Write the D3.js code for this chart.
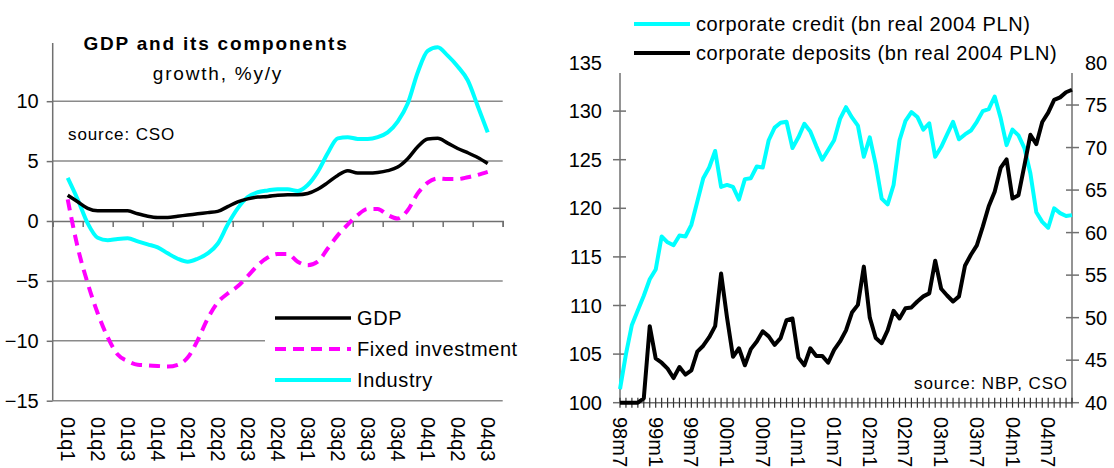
<!DOCTYPE html>
<html>
<head>
<meta charset="utf-8">
<script src="https://cdn.jsdelivr.net/npm/d3@7"></script>
<style>
  body { margin: 0; background: #fff; }
  svg { font-family: "Liberation Sans", Arial, sans-serif; }
</style>
</head>
<body>
<svg id="chart" width="1114" height="468"></svg>
<script>
// ---- left chart: GDP and its components ----
const quarters = ['01q1','01q2','01q3','01q4','02q1','02q2','02q3','02q4',
                  '03q1','03q2','03q3','03q4','04q1','04q2','04q3'];
const gdpTicks = [-15, -10, -5, 0, 5, 10];

// readings at thirds of a quarter, 01q1 .. 04q3
const gdp = [2.15,1.6,1.05,0.85,0.85,0.85,0.85,0.6,0.4,0.3,0.3,0.4,0.5,0.6,0.7,
  0.8,1.2,1.6,1.85,2.0,2.05,2.15,2.2,2.2,2.3,2.65,3.2,3.8,4.2,4.0,4.0,4.05,4.2,
  4.5,5.2,6.2,6.85,6.9,6.5,6.05,5.7,5.3,4.8];
const investment = [1.8,-2.2,-5.2,-7.7,-9.7,-11.15,-11.7,-12.0,-12.05,-12.1,-12.15,
  -12.0,-11.4,-9.95,-8.15,-6.8,-6.05,-5.45,-4.6,-3.7,-3.05,-2.75,-2.75,-3.4,-3.7,
  -3.4,-2.3,-1.2,-0.3,0.5,1.0,1.0,0.5,0.2,0.9,2.3,3.2,3.55,3.5,3.5,3.65,3.85,4.1];
const industry = [3.6,1.8,-0.2,-1.4,-1.6,-1.5,-1.45,-1.7,-1.95,-2.2,-2.7,-3.15,-3.4,
  -3.15,-2.7,-1.9,-0.3,1.05,2.0,2.4,2.55,2.65,2.65,2.5,3.0,4.1,5.65,6.9,7.0,6.85,
  6.85,7.0,7.4,8.3,9.8,12.4,14.2,14.5,13.8,12.9,11.75,9.6,7.4];

// ---- right chart: corporate credit and deposits ----
const monthLabels = ['98m7','99m1','99m7','00m1','00m7','01m1','01m7',
                     '02m1','02m7','03m1','03m7','04m1','04m7'];
const creditTicks = [100, 105, 110, 115, 120, 125, 130, 135];
const depositTicks = [40, 45, 50, 55, 60, 65, 70, 75, 80];

const credit = [101.4,105.0,108.0,109.5,111.0,112.7,113.7,117.1,116.5,116.2,117.2,
  117.1,118.3,120.7,123.1,124.2,125.9,122.2,122.4,122.2,120.9,123.0,123.1,124.3,
  124.2,127.0,128.3,128.8,128.9,126.2,127.3,128.7,127.9,126.4,125.0,126.0,127.0,
  129.2,130.4,129.35,128.5,125.3,127.3,124.5,121.0,120.4,122.4,127.0,129.0,129.9,
  129.4,128.1,128.75,125.3,126.3,127.6,128.9,127.1,127.6,128.0,128.9,130.0,130.2,
  131.5,129.3,126.5,128.1,127.5,126.2,123.6,119.6,118.6,118.0,120.0,119.5,119.2,119.3];
const deposits = [40.0,40.0,40.0,40.0,40.5,49.0,45.2,44.7,44.0,42.9,44.2,43.3,43.8,
  46.0,46.7,47.7,49.0,55.2,50.0,45.4,46.4,44.4,46.3,47.2,48.4,47.8,46.8,47.6,49.7,
  49.9,45.3,44.4,46.4,45.5,45.5,44.7,46.2,47.2,48.5,50.6,51.5,56.0,50.0,47.6,47.0,
  48.5,50.8,49.9,51.1,51.2,51.9,52.5,52.85,56.7,53.4,52.6,51.9,52.5,56.1,57.4,58.5,
  60.7,63.1,64.8,67.6,68.6,64.0,64.4,67.9,71.5,70.4,73.0,74.1,75.6,75.9,76.5,76.8];

// month names 98m7 .. 04m11
const months = d3.range(credit.length).map(i => {
  const t = 6 + i;
  const yy = (98 + Math.floor(t / 12)) % 100;
  return String(yy).padStart(2, '0') + 'm' + (t % 12 + 1);
});

const svg = d3.select('#chart');
const AXIS = '#707070', GRID = '#8a8a8a';

// ================= left chart =================
const L = { left: 52.7, right: 502.7, top: 43, bottom: 400.7 };
const yG = d3.scaleLinear().domain([-15, 15]).range([L.bottom, 41.3]);
const xq = d3.scaleLinear().domain([-0.5, quarters.length - 0.5]).range([L.left, L.right]);
const xm = (d, i) => xq(i / 3);

const left = svg.append('g');

// gridlines
left.selectAll('.grid').data(gdpTicks.filter(d => d !== 0))
  .enter().append('line')
  .attr('x1', L.left).attr('x2', L.right)
  .attr('y1', d => yG(d)).attr('y2', d => yG(d))
  .attr('stroke', GRID).attr('stroke-width', 1.5);

// y axis
left.append('g')
  .attr('transform', 'translate(' + L.left + ',0)')
  .call(d3.axisLeft(yG).tickValues(gdpTicks).tickSize(6).tickPadding(8))
  .call(g => g.select('.domain').remove())
  .call(g => g.selectAll('.tick line').attr('stroke', AXIS).attr('stroke-width', 1.5))
  .call(g => g.selectAll('.tick text').attr('font-size', 20).attr('fill', '#000')
    .attr('font-family', '"Liberation Sans", Arial, sans-serif'));
left.append('line')
  .attr('x1', L.left).attr('x2', L.left).attr('y1', L.top).attr('y2', L.bottom)
  .attr('stroke', AXIS).attr('stroke-width', 1.5);

// x axis at zero with ticks at quarter boundaries
left.append('g')
  .attr('transform', 'translate(0,' + yG(0) + ')')
  .call(d3.axisBottom(xq).tickValues(d3.range(-0.5, quarters.length, 1)).tickSize(6).tickFormat(''))
  .call(g => g.select('.domain').attr('stroke', AXIS).attr('stroke-width', 1.5))
  .call(g => g.selectAll('.tick line').attr('stroke', AXIS).attr('stroke-width', 1.5));

// quarter labels (rotated)
left.selectAll('.qlab').data(quarters)
  .enter().append('text')
  .attr('transform', (d, i) => 'translate(' + xq(i) + ',417) rotate(90)')
  .attr('dominant-baseline', 'central')
  .attr('font-size', 20)
  .text(d => d);

// series
const lineG = d3.line().x(xm).y(d => yG(d)).curve(d3.curveMonotoneX);
left.append('path').datum(investment)
  .attr('d', lineG).attr('fill', 'none')
  .attr('stroke', '#ff00ff').attr('stroke-width', 4).attr('stroke-dasharray', '11,7');
left.append('path').datum(industry)
  .attr('d', lineG).attr('fill', 'none')
  .attr('stroke', '#00ffff').attr('stroke-width', 4);
left.append('path').datum(gdp)
  .attr('d', lineG).attr('fill', 'none')
  .attr('stroke', '#000').attr('stroke-width', 3.5);

// title
left.append('text').attr('x', 216).attr('y', 43)
  .attr('text-anchor', 'middle').attr('dominant-baseline', 'central')
  .attr('font-size', 19).attr('font-weight', 'bold').attr('letter-spacing', 1.8)
  .text('GDP and its components');
left.append('text').attr('x', 218).attr('y', 73)
  .attr('text-anchor', 'middle').attr('dominant-baseline', 'central')
  .attr('font-size', 19).attr('letter-spacing', 1.8)
  .text('growth, %y/y');
left.append('text').attr('x', 68).attr('y', 134)
  .attr('dominant-baseline', 'central')
  .attr('font-size', 17).attr('letter-spacing', 0.9)
  .text('source: CSO');

// legend
const legL = left.append('g');
legL.append('rect').attr('x', 265).attr('y', 293).attr('width', 270).attr('height', 100).attr('fill', '#fff');
const legItems = [
  { name: 'GDP', color: '#000', dash: null, w: 3.5 },
  { name: 'Fixed investment', color: '#ff00ff', dash: '11,7', w: 4 },
  { name: 'Industry', color: '#00ffff', dash: null, w: 4 }
];
legItems.forEach((d, i) => {
  const y = 318 + i * 31;
  legL.append('line').attr('x1', 275).attr('x2', 351).attr('y1', y).attr('y2', y)
    .attr('stroke', d.color).attr('stroke-width', d.w)
    .attr('stroke-dasharray', d.dash);
  legL.append('text').attr('x', 357).attr('y', y)
    .attr('dominant-baseline', 'central').attr('font-size', 20).attr('letter-spacing', 0.6)
    .text(d.name);
});

// ================= right chart =================
const R = { left: 620, right: 1072, top: 73, bottom: 402.7 };
const x = d3.scalePoint().domain(months).range([R.left, R.right]);
const yC = d3.scaleLinear().domain([100, 135]).range([R.bottom, 62.5]);
const yD = d3.scaleLinear().domain([40, 80]).range([R.bottom, 62.5]);

const right = svg.append('g');

// axes lines
right.append('line').attr('x1', R.left).attr('x2', R.left).attr('y1', R.top).attr('y2', R.bottom)
  .attr('stroke', AXIS).attr('stroke-width', 1.5);
right.append('line').attr('x1', R.right).attr('x2', R.right).attr('y1', R.top).attr('y2', R.bottom)
  .attr('stroke', AXIS).attr('stroke-width', 1.5);
right.append('line').attr('x1', R.left).attr('x2', R.right).attr('y1', R.bottom).attr('y2', R.bottom)
  .attr('stroke', AXIS).attr('stroke-width', 1.5);

// crossing ticks
right.selectAll('.lt').data(creditTicks.filter(d => yC(d) > R.top))
  .enter().append('line')
  .attr('x1', R.left - 7).attr('x2', R.left + 6)
  .attr('y1', d => yC(d)).attr('y2', d => yC(d))
  .attr('stroke', AXIS).attr('stroke-width', 1.5);
right.selectAll('.rt').data(depositTicks.filter(d => yD(d) > R.top))
  .enter().append('line')
  .attr('x1', R.right - 6).attr('x2', R.right + 7)
  .attr('y1', d => yD(d)).attr('y2', d => yD(d))
  .attr('stroke', AXIS).attr('stroke-width', 1.5);
right.selectAll('.mt').data(months)
  .enter().append('line')
  .attr('x1', d => x(d)).attr('x2', d => x(d))
  .attr('y1', R.bottom - 5).attr('y2', R.bottom + 5)
  .attr('stroke', '#333').attr('stroke-width', 1.2);

// tick labels
right.selectAll('.ltl').data(creditTicks)
  .enter().append('text')
  .attr('x', 602).attr('y', d => yC(d))
  .attr('text-anchor', 'end').attr('dominant-baseline', 'central')
  .attr('font-size', 20).text(d => d);
right.selectAll('.rtl').data(depositTicks)
  .enter().append('text')
  .attr('x', 1085).attr('y', d => yD(d))
  .attr('dominant-baseline', 'central')
  .attr('font-size', 20).text(d => d);
right.selectAll('.mlab').data(monthLabels)
  .enter().append('text')
  .attr('transform', d => 'translate(' + x(d) + ',417) rotate(90)')
  .attr('dominant-baseline', 'central')
  .attr('font-size', 20)
  .text(d => d);

// series
right.append('path').datum(credit)
  .attr('d', d3.line().x((d, i) => x(months[i])).y(d => yC(d)))
  .attr('fill', 'none').attr('stroke', '#00ffff').attr('stroke-width', 4)
  .attr('stroke-linejoin', 'round');
right.append('path').datum(deposits)
  .attr('d', d3.line().x((d, i) => x(months[i])).y(d => yD(d)))
  .attr('fill', 'none').attr('stroke', '#000').attr('stroke-width', 4)
  .attr('stroke-linejoin', 'round');

right.append('text').attr('x', 1068).attr('y', 383)
  .attr('text-anchor', 'end').attr('dominant-baseline', 'central')
  .attr('font-size', 17).attr('letter-spacing', 0.9)
  .text('source: NBP, CSO');

// legend
const legR = right.append('g');
const legR_items = [
  { name: 'corporate credit (bn real 2004 PLN)', color: '#00ffff' },
  { name: 'corporate deposits (bn real 2004 PLN)', color: '#000' }
];
legR_items.forEach((d, i) => {
  const y = 24 + i * 29;
  legR.append('line').attr('x1', 634).attr('x2', 690).attr('y1', y).attr('y2', y)
    .attr('stroke', d.color).attr('stroke-width', 4);
  legR.append('text').attr('x', 696).attr('y', y)
    .attr('dominant-baseline', 'central').attr('font-size', 20).attr('letter-spacing', 0.6)
    .text(d.name);
});
</script>
</body>
</html>
